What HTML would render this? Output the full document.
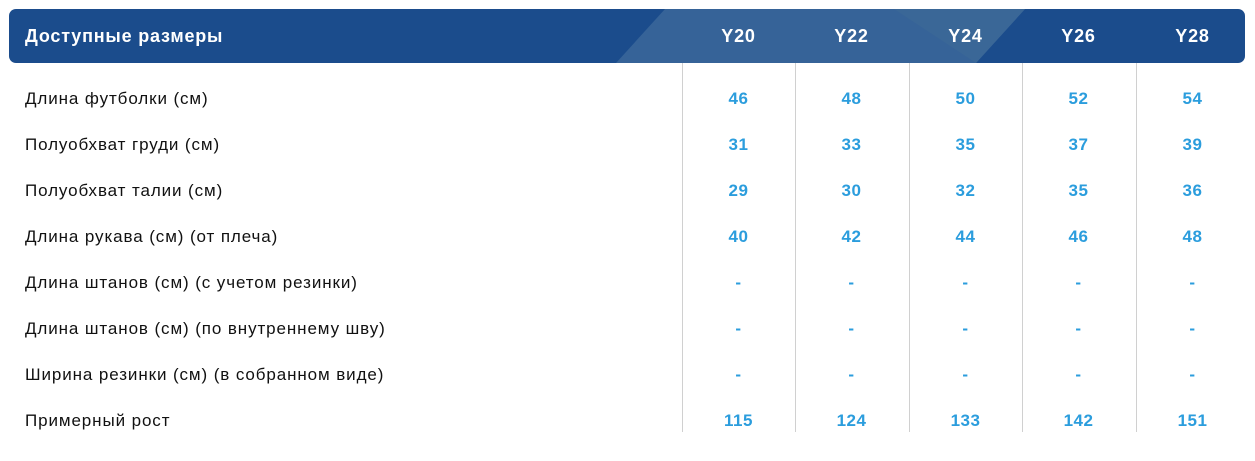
<!DOCTYPE html>
<html><head><meta charset="utf-8"><style>
body{margin:0;width:1255px;height:461px;background:#fff;position:relative;overflow:hidden;font-family:"Liberation Sans","DejaVu Sans",sans-serif}
.hd{position:absolute;left:9px;top:9px;width:1236px;height:54px;border-radius:7px;background:#1b4c8c;overflow:hidden}
.t{position:absolute;color:#fff;font-weight:bold;font-size:18px;line-height:54px;top:9px;letter-spacing:0.8px}
.l{position:absolute;left:25px;font-size:17px;color:#111;line-height:20px;letter-spacing:0.9px}
.v{position:absolute;width:113px;text-align:center;font-size:17px;font-weight:bold;color:#2b9ddd;line-height:20px;letter-spacing:0.5px}
.s{position:absolute;top:63px;height:369px;width:1px;background:#d0d0d0}
</style></head><body>
<div class="hd"><svg width="1236" height="54" style="position:absolute;left:0;top:0">
<polygon points="656,0 1016,0 967,54 607,54" fill="#366398"/>
<polygon points="885,0 1016,0 967,54" fill="#3a6797"/>
</svg></div>
<div class="t" style="left:25px">Доступные размеры</div>
<div class="t" style="left:682px;width:113px;text-align:center">Y20</div>
<div class="t" style="left:795px;width:113px;text-align:center">Y22</div>
<div class="t" style="left:909px;width:113px;text-align:center">Y24</div>
<div class="t" style="left:1022px;width:113px;text-align:center">Y26</div>
<div class="t" style="left:1136px;width:113px;text-align:center">Y28</div>
<div class="s" style="left:682px"></div><div class="s" style="left:795px"></div><div class="s" style="left:909px"></div><div class="s" style="left:1022px"></div><div class="s" style="left:1136px"></div>
<div id="rows"></div>
<script>
var R=[["Длина футболки (см)",46,48,50,52,54],["Полуобхват груди (см)",31,33,35,37,39],["Полуобхват талии (см)",29,30,32,35,36],["Длина рукава (см) (от плеча)",40,42,44,46,48],["Длина штанов (см) (с учетом резинки)","-","-","-","-","-"],["Длина штанов (см) (по внутреннему шву)","-","-","-","-","-"],["Ширина резинки (см) (в собранном виде)","-","-","-","-","-"],["Примерный рост",115,124,133,142,151]];
var X=[682,795,909,1022,1136],h="";
R.forEach(function(r,i){var y=89+i*46;h+='<div class="l" style="top:'+y+'px">'+r[0]+'</div>';for(var j=0;j<5;j++)h+='<div class="v" style="left:'+X[j]+'px;top:'+y+'px">'+r[j+1]+'</div>';});
document.getElementById("rows").innerHTML=h;
</script>
</body></html>
